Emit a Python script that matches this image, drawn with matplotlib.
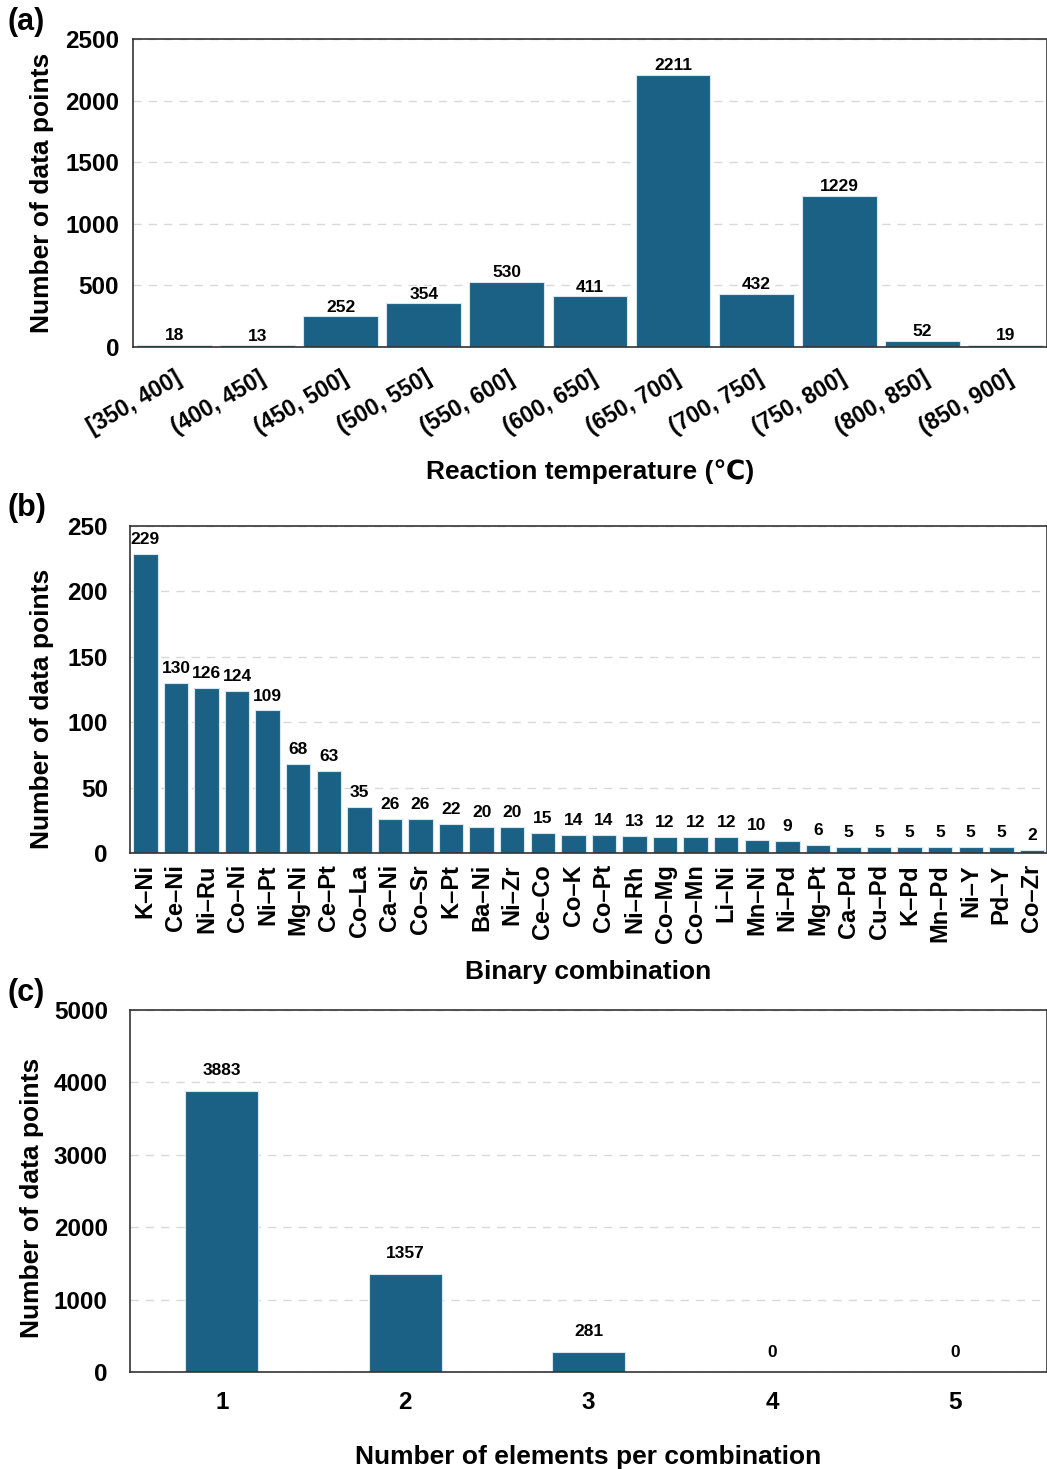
import matplotlib
matplotlib.use('Agg')
import matplotlib.pyplot as plt
import numpy as np

plt.rcParams['font.family'] = ['Liberation Sans', 'DejaVu Sans']
plt.rcParams['font.weight'] = 'bold'

# (a) reaction temperature bins
temp_bins = ['[350, 400]', '(400, 450]', '(450, 500]', '(500, 550]', '(550, 600]',
             '(600, 650]', '(650, 700]', '(700, 750]', '(750, 800]', '(800, 850]',
             '(850, 900]']
temp_counts = [18, 13, 252, 354, 530, 411, 2211, 432, 1229, 52, 19]

# (b) binary combinations
binary_pairs = ['K–Ni', 'Ce–Ni', 'Ni–Ru', 'Co–Ni', 'Ni–Pt', 'Mg–Ni', 'Ce–Pt', 'Co–La',
                'Ca–Ni', 'Co–Sr', 'K–Pt', 'Ba–Ni', 'Ni–Zr', 'Ce–Co', 'Co–K', 'Co–Pt',
                'Ni–Rh', 'Co–Mg', 'Co–Mn', 'Li–Ni', 'Mn–Ni', 'Ni–Pd', 'Mg–Pt', 'Ca–Pd',
                'Cu–Pd', 'K–Pd', 'Mn–Pd', 'Ni–Y', 'Pd–Y', 'Co–Zr']
binary_counts = [229, 130, 126, 124, 109, 68, 63, 35, 26, 26, 22, 20, 20, 15, 14, 14,
                 13, 12, 12, 12, 10, 9, 6, 5, 5, 5, 5, 5, 5, 2]

# (c) number of elements per combination
n_elements = [1, 2, 3, 4, 5]
element_counts = [3883, 1357, 281, 0, 0]

bar_color = '#1a6185'
edge_color = '#d6e6ee'

fig = plt.figure(figsize=(10.47, 14.69), dpi=100)


def style_axes(ax, ymax, ystep, pad, label_x, label_y):
    ax.set_ylim(0, ymax)
    ax.set_yticks(np.arange(0, ymax + 1, ystep))
    ax.yaxis.grid(True, linestyle=(0, (6, 5)), color='#d9d9d9', linewidth=1)
    ax.set_axisbelow(True)
    ax.tick_params(axis='both', length=0)
    ax.tick_params(axis='y', pad=pad)
    for lbl in ax.get_yticklabels():
        lbl.set_fontsize(17.5)
        lbl.set_fontweight('bold')
    for s in ax.spines.values():
        s.set_color('#333333')
        s.set_linewidth(1.2)
    ax.set_ylabel('Number of data points', fontsize=19, fontweight='bold')
    ax.yaxis.set_label_coords(label_x, label_y)


def annotate(ax, xs, vals, offset, size=12.5):
    for x, v in zip(xs, vals):
        ax.annotate(str(v), (x, v), xytext=(0, offset), textcoords='offset points',
                    ha='center', va='bottom', fontsize=size, fontweight='bold')


# --- (a) ---
ax1 = fig.add_axes([0.127, 0.7638, 0.873, 0.2097])
x1 = np.arange(len(temp_bins))
ax1.bar(x1, temp_counts, width=0.9, color=bar_color, edgecolor=edge_color, linewidth=0.8)
ax1.set_xlim(-0.5, len(temp_bins) - 0.5)
style_axes(ax1, 2500, 500, 10, -0.086, 0.5)
ax1.set_xticks(x1)
ax1.set_xticklabels(temp_bins, rotation=30, ha='right', rotation_mode='anchor',
                    fontsize=16.5, fontweight='bold')
ax1.tick_params(axis='x', pad=14)
ax1.set_xlabel('Reaction temperature (℃)', fontsize=19, fontweight='bold', labelpad=15)
annotate(ax1, x1, temp_counts, 1)
fig.text(0.007, 0.985, '(a)', fontsize=22, fontweight='bold', va='center')

# --- (b) ---
ax2 = fig.add_axes([0.1242, 0.4193, 0.876, 0.2226])
x2 = np.arange(len(binary_pairs))
ax2.bar(x2, binary_counts, width=0.8, color=bar_color, edgecolor=edge_color, linewidth=0.8)
ax2.set_xlim(-0.5, len(binary_pairs) - 0.5)
style_axes(ax2, 250, 50, 16, -0.083, 0.44)
ax2.set_xticks(x2)
ax2.set_xticklabels(binary_pairs, rotation=90, fontsize=17, fontweight='bold')
ax2.tick_params(axis='x', pad=8)
ax2.set_xlabel('Binary combination', fontsize=19, fontweight='bold', labelpad=12)
annotate(ax2, x2, binary_counts, 5)
fig.text(0.007, 0.654, '(b)', fontsize=22, fontweight='bold', va='center')

# --- (c) ---
ax3 = fig.add_axes([0.1242, 0.0660, 0.876, 0.2464])
ax3.bar(n_elements, element_counts, width=0.4, color=bar_color, edgecolor=edge_color, linewidth=0.8)
ax3.set_xlim(0.5, 5.5)
style_axes(ax3, 5000, 1000, 16, -0.094, 0.48)
ax3.set_xticks(n_elements)
ax3.set_xticklabels([str(n) for n in n_elements], fontsize=17.5, fontweight='bold')
ax3.tick_params(axis='x', pad=14)
ax3.set_xlabel('Number of elements per combination', fontsize=19, fontweight='bold', labelpad=22)
annotate(ax3, n_elements, element_counts, 9)
fig.text(0.007, 0.324, '(c)', fontsize=22, fontweight='bold', va='center')

fig.savefig('out.png', dpi=100)
